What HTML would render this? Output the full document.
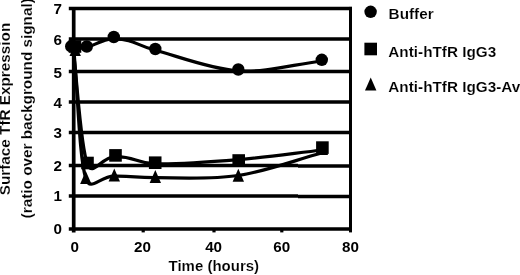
<!DOCTYPE html>
<html><head><meta charset="utf-8"><style>
html,body{margin:0;padding:0;background:#fff;width:520px;height:275px;overflow:hidden}
svg{display:block;filter:grayscale(1)}
</style></head><body>
<svg width="520" height="275" viewBox="0 0 520 275">
<rect width="520" height="275" fill="#fff"/>
<line x1="68.8" y1="228.9" x2="350.5" y2="228.9" stroke="#000" stroke-width="3.5"/>
<line x1="68.8" y1="195.9" x2="298" y2="195.9" stroke="#000" stroke-width="3.5"/>
<line x1="298" y1="196.5" x2="350.5" y2="196.5" stroke="#000" stroke-width="3.5"/>
<line x1="68.8" y1="165.4" x2="298" y2="165.4" stroke="#000" stroke-width="3.5"/>
<line x1="298" y1="166.1" x2="350.5" y2="166.1" stroke="#000" stroke-width="3.5"/>
<line x1="68.8" y1="132.4" x2="350.5" y2="132.4" stroke="#000" stroke-width="3.5"/>
<line x1="68.8" y1="102.0" x2="350.5" y2="102.0" stroke="#000" stroke-width="3.5"/>
<line x1="68.8" y1="71.5" x2="350.5" y2="71.5" stroke="#000" stroke-width="3.5"/>
<line x1="68.8" y1="38.9" x2="350.5" y2="38.9" stroke="#000" stroke-width="3.5"/>
<line x1="68.8" y1="8.4" x2="352.0" y2="8.4" stroke="#000" stroke-width="3.5"/>
<line x1="73.7" y1="6.9" x2="73.7" y2="232.4" stroke="#000" stroke-width="3.7"/>
<line x1="350.5" y1="6.9" x2="350.5" y2="232.4" stroke="#000" stroke-width="3.0"/>
<line x1="143.2" y1="228" x2="143.2" y2="232.4" stroke="#000" stroke-width="3.2"/>
<line x1="214.0" y1="228" x2="214.0" y2="232.4" stroke="#000" stroke-width="3.2"/>
<line x1="281.8" y1="228" x2="281.8" y2="232.4" stroke="#000" stroke-width="3.2"/>
<path d="M71.60 47.50 C76.60 47.50 79.50 48.95 86.60 47.50 C93.70 46.05 102.75 38.35 114.20 38.80 C135.51 39.64 134.65 44.86 155.30 50.20 C175.98 55.55 210.55 69.10 238.30 70.90 C266.05 72.70 293.97 64.30 321.80 61.00" fill="none" stroke="#000" stroke-width="3.2" stroke-linejoin="round"/>
<path d="M73.00 47.70 C77.83 86.53 80.42 146.05 87.50 164.20 C92.77 177.71 100.99 156.69 115.50 156.60 C135.67 156.48 135.03 163.31 155.20 163.80 C175.73 164.30 210.83 161.90 238.70 159.60 C266.57 157.30 294.50 153.20 322.40 150.00" fill="none" stroke="#000" stroke-width="3.2" stroke-linejoin="round"/>
<path d="M73.80 49.50 C77.80 92.57 79.10 157.58 85.80 178.70 C90.08 192.19 99.85 176.40 114.00 176.20 C134.66 175.90 134.64 177.82 155.30 177.70 C176.02 177.58 210.45 179.65 238.30 175.50 C266.15 171.35 294.37 160.37 322.40 152.80" fill="none" stroke="#000" stroke-width="3.2" stroke-linejoin="round"/>
<polygon points="75.20,42.90 80.90,55.90 69.50,55.90" fill="#000"/>
<polygon points="85.80,171.00 91.50,184.00 80.10,184.00" fill="#000"/>
<polygon points="114.30,168.50 120.00,181.50 108.60,181.50" fill="#000"/>
<polygon points="155.30,169.90 161.00,182.90 149.60,182.90" fill="#000"/>
<polygon points="238.30,168.70 244.00,181.70 232.60,181.70" fill="#000"/>
<polygon points="322.40,142.00 328.10,155.00 316.70,155.00" fill="#000"/>
<rect x="68.70" y="40.20" width="12.6" height="12.6" fill="#000"/>
<rect x="81.20" y="156.70" width="12.6" height="12.6" fill="#000"/>
<rect x="109.20" y="149.10" width="12.6" height="12.6" fill="#000"/>
<rect x="148.90" y="156.40" width="12.6" height="12.6" fill="#000"/>
<rect x="232.40" y="154.20" width="12.6" height="12.6" fill="#000"/>
<rect x="316.10" y="141.30" width="12.6" height="12.6" fill="#000"/>
<circle cx="71.2" cy="46.3" r="6.2" fill="#000"/>
<circle cx="86.8" cy="46.5" r="6.2" fill="#000"/>
<circle cx="113.8" cy="37.0" r="6.2" fill="#000"/>
<circle cx="155.3" cy="49.0" r="6.2" fill="#000"/>
<circle cx="238.3" cy="69.5" r="6.2" fill="#000"/>
<circle cx="321.8" cy="59.8" r="6.2" fill="#000"/>
<circle cx="370.6" cy="11.8" r="6.2" fill="#000"/>
<rect x="364.4" y="42.7" width="12.6" height="12.6" fill="#000"/>
<polygon points="370.70,77.50 376.40,90.50 365.00,90.50" fill="#000"/>
<text x="62" y="233.55" text-anchor="end" font-family="Liberation Sans" font-weight="bold" font-size="15.2">0</text>
<text x="62" y="200.95" text-anchor="end" font-family="Liberation Sans" font-weight="bold" font-size="15.2">1</text>
<text x="62" y="170.85" text-anchor="end" font-family="Liberation Sans" font-weight="bold" font-size="15.2">2</text>
<text x="62" y="137.65" text-anchor="end" font-family="Liberation Sans" font-weight="bold" font-size="15.2">3</text>
<text x="62" y="107.65" text-anchor="end" font-family="Liberation Sans" font-weight="bold" font-size="15.2">4</text>
<text x="62" y="77.95" text-anchor="end" font-family="Liberation Sans" font-weight="bold" font-size="15.2">5</text>
<text x="62" y="45.15" text-anchor="end" font-family="Liberation Sans" font-weight="bold" font-size="15.2">6</text>
<text x="62" y="14.10" text-anchor="end" font-family="Liberation Sans" font-weight="bold" font-size="15.2">7</text>
<text x="74.70" y="251.8" text-anchor="middle" font-family="Liberation Sans" font-weight="bold" font-size="15.2">0</text>
<text x="142.50" y="251.8" text-anchor="middle" font-family="Liberation Sans" font-weight="bold" font-size="15.2">20</text>
<text x="213.60" y="251.8" text-anchor="middle" font-family="Liberation Sans" font-weight="bold" font-size="15.2">40</text>
<text x="281.80" y="251.8" text-anchor="middle" font-family="Liberation Sans" font-weight="bold" font-size="15.2">60</text>
<text x="350.50" y="251.8" text-anchor="middle" font-family="Liberation Sans" font-weight="bold" font-size="15.2">80</text>
<text x="213.8" y="271.2" text-anchor="middle" font-family="Liberation Sans" font-weight="bold" stroke="#fff" stroke-width="0.15" font-size="15">Time (hours)</text>
<text transform="translate(10.2,109) rotate(-90)" text-anchor="middle" font-family="Liberation Sans" font-weight="bold" stroke="#fff" stroke-width="0.15" font-size="15.3">Surface TfR Expression</text>
<text transform="translate(31.6,108.3) rotate(-90)" text-anchor="middle" font-family="Liberation Sans" font-weight="bold" stroke="#fff" stroke-width="0.15" font-size="15.3">(ratio over background signal)</text>
<text x="388.6" y="18.5" font-family="Liberation Sans" font-weight="bold" stroke="#fff" stroke-width="0.15" font-size="15.3">Buffer</text>
<text x="388.3" y="56.5" font-family="Liberation Sans" font-weight="bold" stroke="#fff" stroke-width="0.15" font-size="15.3">Anti-hTfR IgG3</text>
<text x="388.3" y="91.5" font-family="Liberation Sans" font-weight="bold" stroke="#fff" stroke-width="0.15" font-size="15.3">Anti-hTfR IgG3-Av</text>
</svg>
</body></html>
